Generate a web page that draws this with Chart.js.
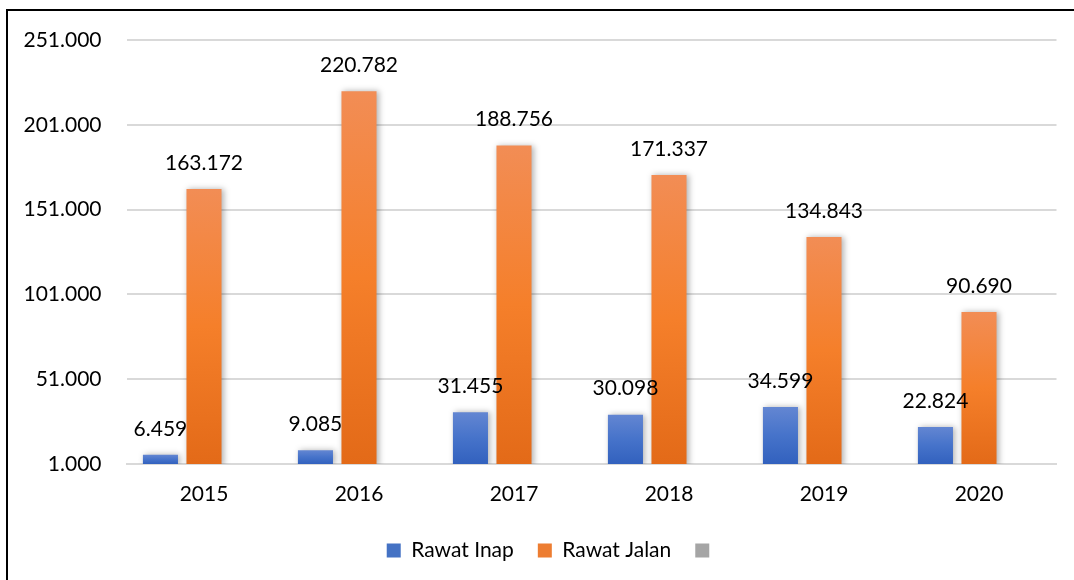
<!DOCTYPE html>
<html>
<head>
<meta charset="utf-8">
<script src="https://cdn.jsdelivr.net/npm/chart.js@4.4.1/dist/chart.umd.min.js"></script>
<style>
  html, body { margin: 0; padding: 0; background: #fff; overflow: hidden; }
  #wrap { position: relative; width: 1074px; height: 580px; }
  #frame {
    position: absolute; left: 6px; top: 9px; width: 2000px; height: 2000px;
    border-left: 2px solid #000; border-top: 2px solid #000; pointer-events: none;
  }
  canvas { position: absolute; left: 0; top: 0; }
</style>
</head>
<body>
<div id="wrap">
  <canvas id="c" width="1074" height="580"></canvas>
  <div id="frame"></div>
</div>
<script>
// Jumlah pasien per tahun
const years = ['2015', '2016', '2017', '2018', '2019', '2020'];
const rawatInap = [6459, 9085, 31455, 30098, 34599, 22824];
const rawatJalan = [163172, 220782, 188756, 171337, 134843, 90690];
const seriesLain = [null, null, null, null, null, null];
const yTicks = [1000, 51000, 101000, 151000, 201000, 251000];

const FONT = 'Lato, "Open Sans", sans-serif';

function fmt(n) {
  return String(n).replace(/\B(?=(\d{3})+(?!\d))/g, '.');
}

// vertical gradient from the top of each bar down to its base
function barGradient(stops) {
  return function (ctx) {
    const chart = ctx.chart;
    const area = chart.chartArea;
    if (!area || ctx.type !== 'data') return stops[1];
    const y = chart.scales.y;
    const v = ctx.raw;
    if (v == null) return stops[1];
    const top = y.getPixelForValue(v);
    const bottom = y.getPixelForValue(y.min);
    if (!isFinite(top) || !isFinite(bottom) || bottom - top < 1) return stops[1];
    const g = chart.ctx.createLinearGradient(0, top, 0, bottom);
    g.addColorStop(0, stops[0]);
    g.addColorStop(0.5, stops[1]);
    g.addColorStop(1, stops[2]);
    return g;
  };
}

const blueStops = ['#6386D2', '#4673CA', '#3261BE'];
const orangeStops = ['#F28D55', '#F57F2A', '#E36A18'];

// soft drop shadow behind the bars
const barShadow = {
  id: 'barShadow',
  beforeDatasetsDraw(chart) {
    const c = chart.ctx;
    c.save();
    c.shadowColor = 'rgba(0,0,0,0.30)';
    c.shadowBlur = 6;
    c.shadowOffsetX = 2;
    c.shadowOffsetY = 0;
  },
  afterDatasetsDraw(chart) {
    chart.ctx.restore();
  }
};

// value labels above each bar
const valueLabels = {
  id: 'valueLabels',
  afterDatasetsDraw(chart) {
    const c = chart.ctx;
    c.save();
    c.shadowColor = 'transparent';
    c.font = '21px ' + FONT;
    c.fillStyle = '#000';
    c.textAlign = 'center';
    c.textBaseline = 'middle';
    [0, 1].forEach(di => {
      const meta = chart.getDatasetMeta(di);
      const data = chart.data.datasets[di].data;
      meta.data.forEach((bar, i) => {
        if (data[i] == null) return;
        c.fillText(fmt(data[i]), bar.x, bar.y - 26);
      });
    });
    c.restore();
  }
};

// nudge the legend row so it sits centred under the plot
const legendShift = {
  id: 'legendShift',
  afterLayout(chart) {
    const lg = chart.legend;
    if (!lg) return;
    const dx = 25;
    lg.left += dx;
    lg.right += dx;
  }
};

new Chart(document.getElementById('c'), {
  type: 'bar',
  data: {
    labels: years,
    datasets: [
      {
        label: 'Rawat Inap',
        data: rawatInap,
        backgroundColor: barGradient(blueStops),
        borderWidth: 0
      },
      {
        label: 'Rawat Jalan',
        data: rawatJalan,
        backgroundColor: barGradient(orangeStops),
        borderWidth: 0
      },
      {
        label: '',
        data: seriesLain,
        backgroundColor: '#A5A5A5',
        borderWidth: 0
      }
    ]
  },
  options: {
    responsive: false,
    animation: false,
    devicePixelRatio: 1,
    layout: { padding: { left: 0, right: 17.5, top: 40, bottom: 9 } },
    datasets: {
      bar: { categoryPercentage: 0.843, barPercentage: 0.805 }
    },
    plugins: {
      legend: {
        position: 'bottom',
        labels: {
          font: { family: FONT, size: 21 },
          color: '#000',
          boxWidth: 14,
          boxHeight: 14,
          padding: 24,
          generateLabels(chart) {
            const cols = ['#4472C4', '#ED7D31', '#A5A5A5'];
            return chart.data.datasets.map((ds, i) => ({
              text: ds.label,
              fillStyle: cols[i],
              strokeStyle: cols[i],
              lineWidth: 0,
              hidden: false,
              datasetIndex: i
            }));
          }
        }
      },
      tooltip: { enabled: false }
    },
    scales: {
      x: {
        grid: { display: false, drawTicks: false },
        border: { display: true, color: '#D9D9D9', width: 2 },
        ticks: { font: { family: FONT, size: 21 }, color: '#000', padding: 18 },
        afterFit(s) { s.height = 52; }
      },
      y: {
        min: 1000,
        max: 251000,
        afterBuildTicks(s) { s.ticks = yTicks.map(v => ({ value: v })); },
        grid: { color: '#D9D9D9', lineWidth: 2, drawTicks: false },
        border: { display: false },
        ticks: {
          font: { family: FONT, size: 21 },
          color: '#000',
          padding: 25,
          callback: v => fmt(v)
        },
        afterFit(s) { s.width = 126.5; }
      }
    }
  },
  plugins: [barShadow, valueLabels, legendShift]
});
</script>
</body>
</html>
